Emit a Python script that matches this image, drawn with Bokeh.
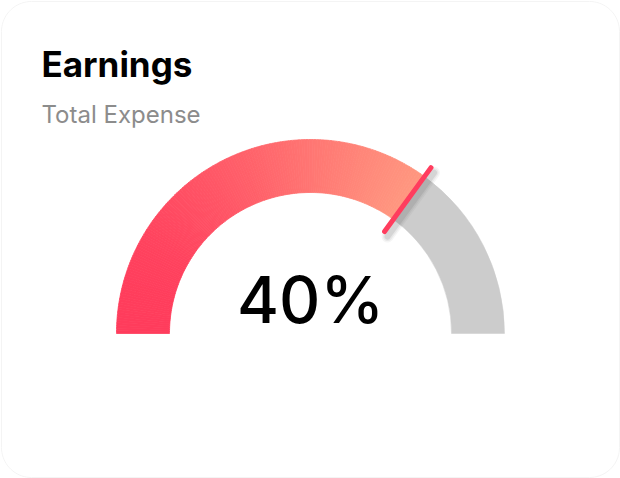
import numpy as np
from bokeh.plotting import figure
from bokeh.models import Range1d
from bokeh.core.properties import value
from bokeh.embed import file_html
from bokeh.resources import INLINE

# Card texts
title_text = "Earnings"
subtitle_text = "Total Expense"

# Gauge data
gauge_min = -100
gauge_max = 100
gauge_value = 40
value_label = f"{gauge_value}%"

# Styling
W, H = 620, 478
FONT = "Inter"
c_start = (0xFF, 0x33, 0x58)
c_end = (0xFF, 0x9D, 0x82)
track_color = "#cccccc"
marker_color = "#ff3d5e"

p = figure(width=W, height=H, output_backend="svg", toolbar_location=None,
           x_range=Range1d(0, W), y_range=Range1d(0, H),
           min_border=0, outline_line_color=None, background_fill_color="white",
           border_fill_color="white")
p.axis.visible = False
p.grid.visible = False

# rounded card outline
r = 30
t = np.linspace(0, np.pi / 2, 20)
xs, ys = [], []
for (cx0, cy0, a0) in [(W - 1 - r, H - 1 - r, 0), (1 + r, H - 1 - r, np.pi / 2),
                       (1 + r, 1 + r, np.pi), (W - 1 - r, 1 + r, 1.5 * np.pi)]:
    xs.extend(cx0 + r * np.cos(t + a0))
    ys.extend(cy0 + r * np.sin(t + a0))
p.patch(xs, ys, fill_color="white", line_color="#f4f4f4", line_width=1)

# gauge geometry (screen pixels, y measured from bottom)
cx, cy = 310, H - 333
r_out, r_in = 194, 141
frac = (gauge_value - gauge_min) / (gauge_max - gauge_min)
theta_v = np.pi - frac * np.pi

# grey remainder of the track
p.annular_wedge(x=cx, y=cy, inner_radius=r_in, outer_radius=r_out,
                start_angle=0, end_angle=theta_v, fill_color=track_color,
                line_color=track_color, line_width=0.5)

# filled part with a horizontal colour gradient
n = 160
edges = np.linspace(theta_v, np.pi, n + 1)
x_left = cx - r_out
x_right = cx + r_out * np.cos(theta_v)
cols = []
for i in range(n):
    mid = 0.5 * (edges[i] + edges[i + 1])
    xm = cx + 0.5 * (r_in + r_out) * np.cos(mid)
    f = np.clip((xm - x_left) / (x_right - x_left), 0, 1)
    c = tuple(int(round(c_start[k] + (c_end[k] - c_start[k]) * f)) for k in range(3))
    cols.append("#%02x%02x%02x" % c)
p.annular_wedge(x=cx, y=cy, inner_radius=r_in, outer_radius=r_out,
                start_angle=edges[:-1], end_angle=edges[1:], fill_color=cols,
                line_color=cols, line_width=0.8)

# value marker with soft shadow
m_in, m_out = 126, 205
mx = [cx + m_in * np.cos(theta_v), cx + m_out * np.cos(theta_v)]
my = [cy + m_in * np.sin(theta_v), cy + m_out * np.sin(theta_v)]
for w, a in [(12, 0.06), (9, 0.08), (6, 0.12)]:
    p.line([v + 3 for v in mx], [v - 5 for v in my], line_color="#555555",
           line_width=w, line_alpha=a, line_cap="round")
p.line(mx, my, line_color=marker_color, line_width=5, line_cap="round")


def put_text(x, baseline_px, size, txt, color, style="normal", align="left",
             font=FONT):
    # place text by its alphabetic baseline, measured in pixels from the top
    y = H - (baseline_px - 0.4 * size)
    p.text(x=[x], y=[y], text=[txt], text_font=value(font),
           text_font_size=f"{size}px", text_font_style=style, text_color=color,
           text_baseline="alphabetic", text_align=align)


put_text(41, 77, 35, title_text, "#000000", style="bold")
put_text(41, 124, 24, subtitle_text, "#8c8c8c")
put_text(cx, 325, 64, value_label, "#000000", align="center",
         font="Inter Medium")

open("out.html", "w").write(file_html(p, INLINE))
